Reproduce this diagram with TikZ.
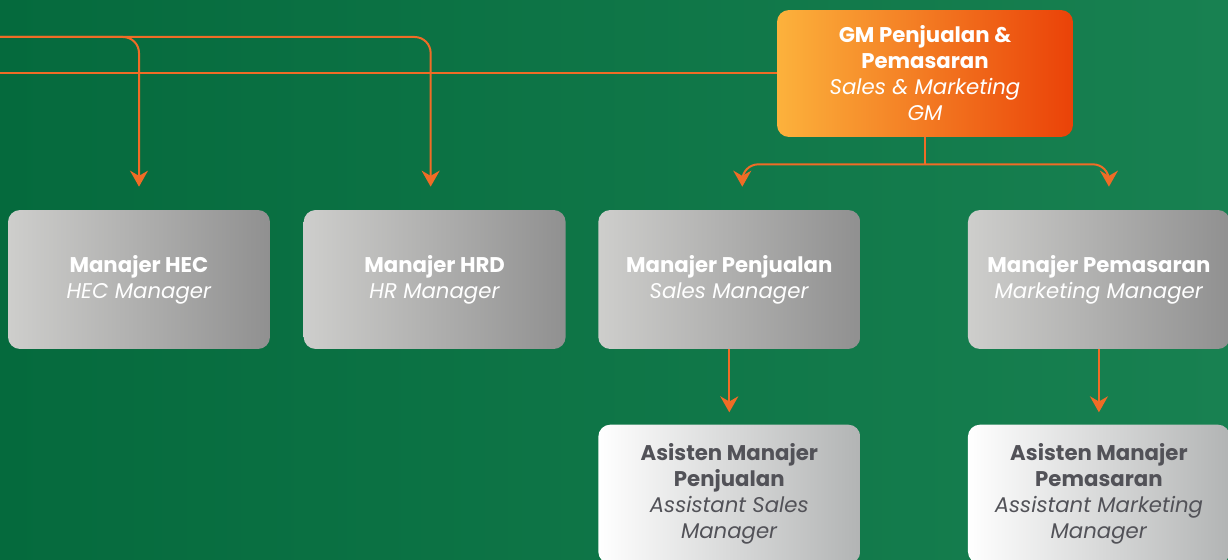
\documentclass[tikz,border=0pt]{standalone}
\usepackage{fontspec}
\setmainfont{Poppins}
\usetikzlibrary{arrows.meta,positioning}

\definecolor{bgleft}{RGB}{5,106,61}
\definecolor{bgright}{RGB}{24,129,81}
\definecolor{lineorange}{RGB}{240,108,38}
\definecolor{grayleft}{RGB}{206,206,204}
\definecolor{grayright}{RGB}{144,144,144}
\definecolor{whiteright}{RGB}{178,180,180}
\definecolor{textgray}{RGB}{82,82,88}
\definecolor{gmleft}{RGB}{252,178,60}
\definecolor{gmright}{RGB}{234,66,8}

\begin{document}
\begin{tikzpicture}[x=0.02cm, y=-0.02cm,
    box/.style = {rectangle, rounded corners=0.24cm, minimum width=5.24cm, minimum height=2.78cm,
                  inner sep=0pt, align=center, font=\fontsize{12.1}{14.8}\selectfont},
    graybox/.style = {box, left color=grayleft, right color=grayright, text=white},
    whitebox/.style = {box, left color=white, right color=whiteright, text=textgray},
    gmbox/.style = {box, minimum width=5.92cm, minimum height=2.54cm,
                    left color=gmleft, right color=gmright, text=white},
    wire/.style = {draw=lineorange, line width=0.04cm},
    link/.style = {wire, ->, >={Stealth[length=0.32cm, width=0.36cm]}, rounded corners=0.32cm}]

    % Background
    \useasboundingbox (0,0) rectangle (1228,560);
    \shade[left color=bgleft, right color=bgright] (0,0) rectangle (1228,560);
    \clip (0,0) rectangle (1228,560);

    % Nodes
    \node[gmbox] (0) at (925,73.5) {\textbf{GM Penjualan \&}\\ \textbf{Pemasaran}\\ \textit{Sales \& Marketing}\\ \textit{GM}};
    \node[graybox] (1) at (139,279.5) {\textbf{Manajer HEC}\\ \textit{HEC Manager}};
    \node[graybox] (2) [right=0.66cm of 1] {\textbf{Manajer HRD}\\ \textit{HR Manager}};
    \node[graybox] (3) [right=0.64cm of 2] {\textbf{Manajer Penjualan}\\ \textit{Sales Manager}};
    \node[graybox] (4) [right=2.14cm of 3] {\textbf{Manajer Pemasaran}\\ \textit{Marketing Manager}};
    \node[whitebox] (5) [below=1.5cm of 3] {\textbf{Asisten Manajer}\\ \textbf{Penjualan}\\ \textit{Assistant Sales}\\ \textit{Manager}};
    \node[whitebox] (6) [below=1.5cm of 4] {\textbf{Asisten Manajer}\\ \textbf{Pemasaran}\\ \textit{Assistant Marketing}\\ \textit{Manager}};

    % Free ends on the left edge
    \coordinate (a) at (0,37);
    \coordinate (b) at (0,73.5);

    % Lines
    \draw[link, shorten >=0.46cm] (a) -| (1.north);
    \draw[link, shorten >=0.46cm] (a) -| ([xshift=-0.08cm]2.north);
    \draw[wire] (0.west) -- (b);
    \draw[wire] (0.south) -- ++(0,27) coordinate (j);
    \draw[link, shorten >=0.46cm] (j) -| ([xshift=0.26cm]3.north);
    \draw[link, shorten >=0.46cm] (j) -| ([xshift=0.2cm]4.north);
    \draw[link, shorten >=0.24cm] (3) -- (5);
    \draw[link, shorten >=0.24cm] (4) -- (6);
\end{tikzpicture}
\end{document}
